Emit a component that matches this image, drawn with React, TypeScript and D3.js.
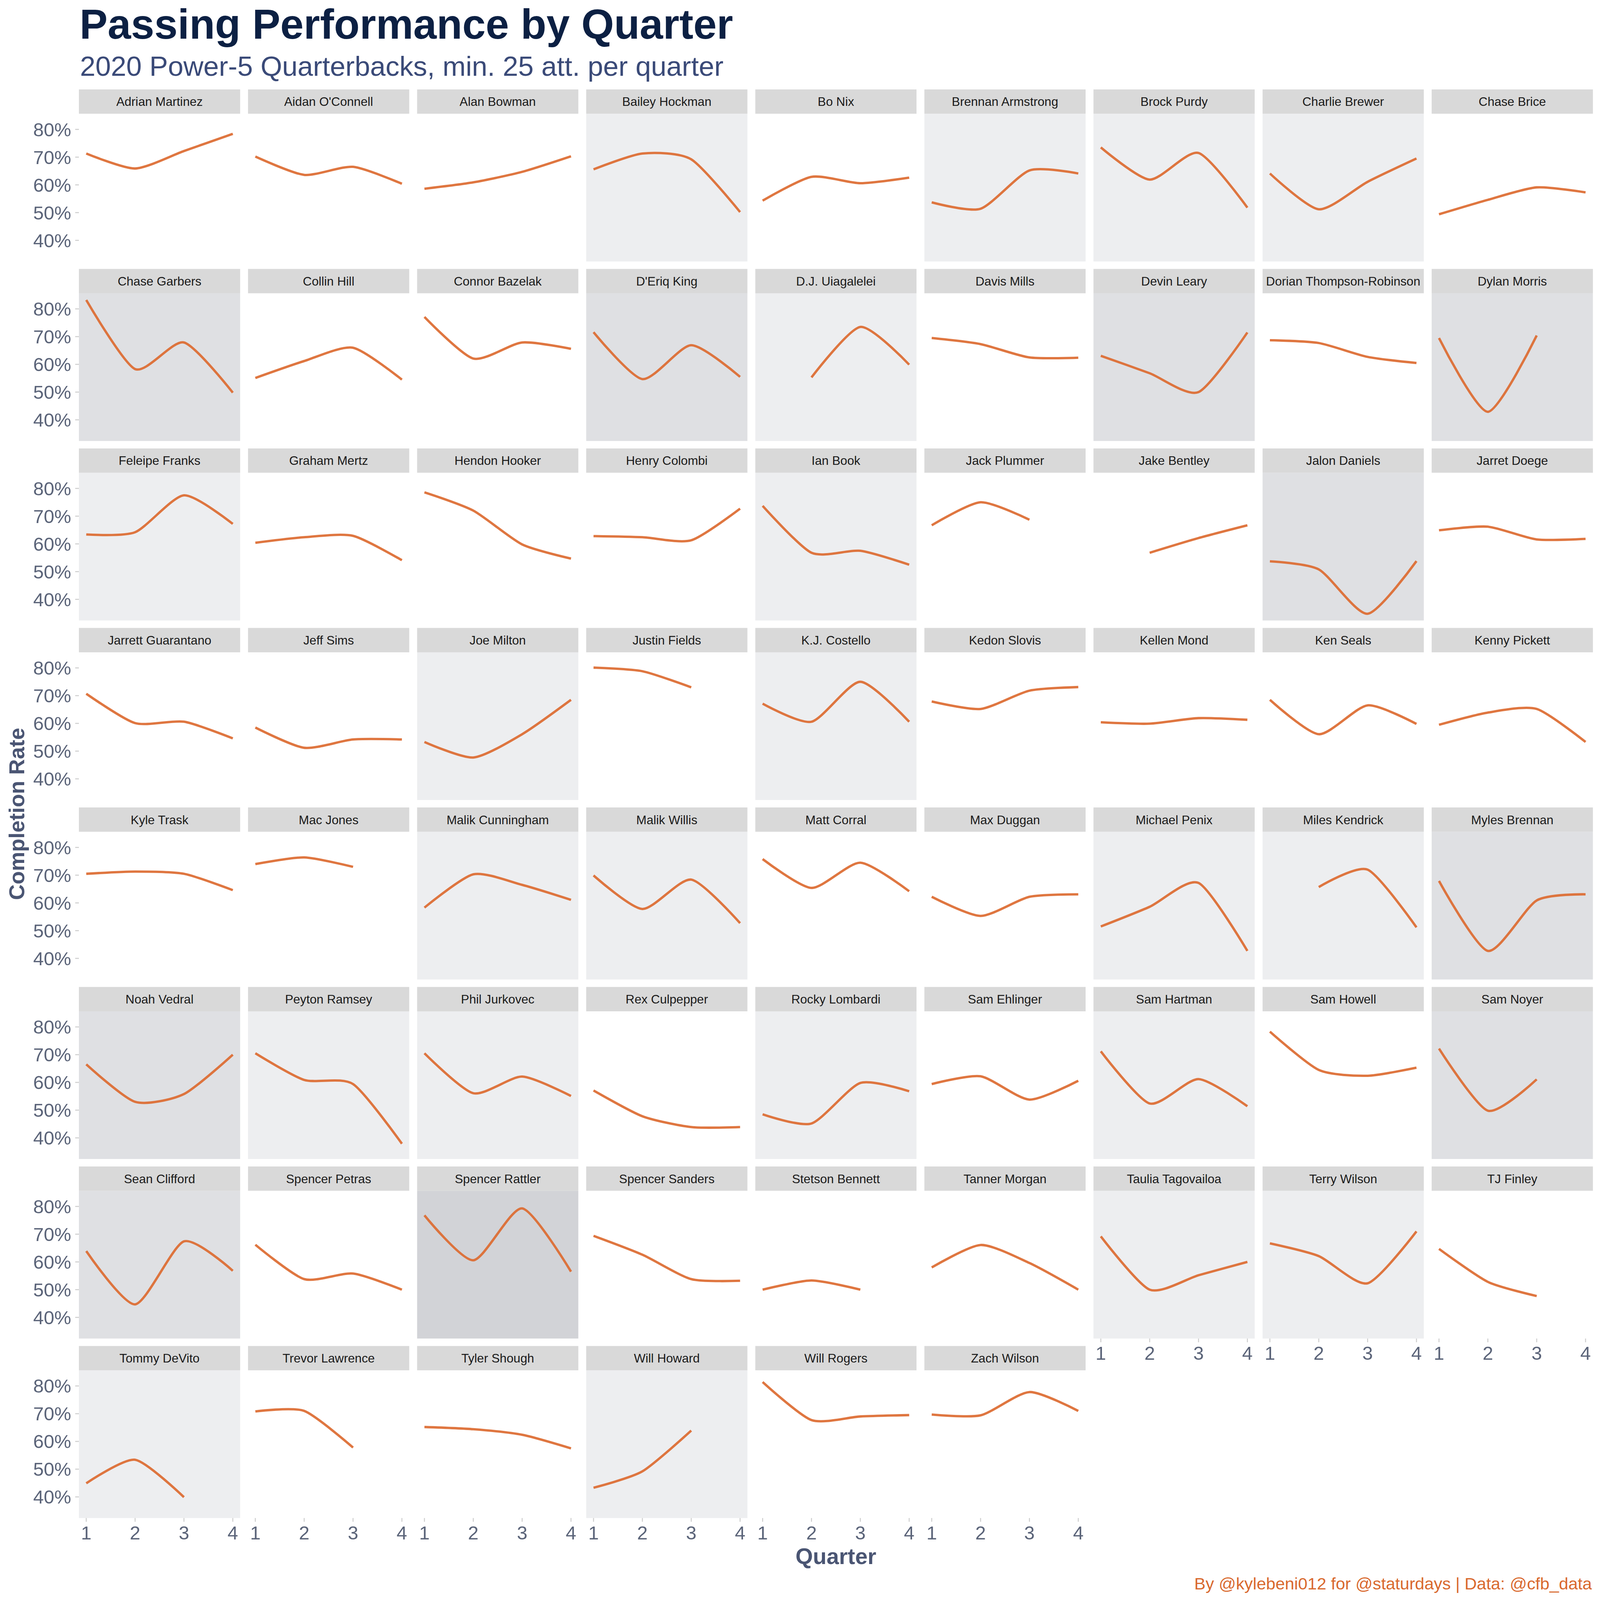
import * as d3 from 'd3';
import React from 'react';

const players = [
	'Adrian Martinez', "Aidan O'Connell", 'Alan Bowman', 'Bailey Hockman', 'Bo Nix', 'Brennan Armstrong', 'Brock Purdy', 'Charlie Brewer', 'Chase Brice',
	'Chase Garbers', 'Collin Hill', 'Connor Bazelak', "D'Eriq King", 'D.J. Uiagalelei', 'Davis Mills', 'Devin Leary', 'Dorian Thompson-Robinson', 'Dylan Morris',
	'Feleipe Franks', 'Graham Mertz', 'Hendon Hooker', 'Henry Colombi', 'Ian Book', 'Jack Plummer', 'Jake Bentley', 'Jalon Daniels', 'Jarret Doege',
	'Jarrett Guarantano', 'Jeff Sims', 'Joe Milton', 'Justin Fields', 'K.J. Costello', 'Kedon Slovis', 'Kellen Mond', 'Ken Seals', 'Kenny Pickett',
	'Kyle Trask', 'Mac Jones', 'Malik Cunningham', 'Malik Willis', 'Matt Corral', 'Max Duggan', 'Michael Penix', 'Miles Kendrick', 'Myles Brennan',
	'Noah Vedral', 'Peyton Ramsey', 'Phil Jurkovec', 'Rex Culpepper', 'Rocky Lombardi', 'Sam Ehlinger', 'Sam Hartman', 'Sam Howell', 'Sam Noyer',
	'Sean Clifford', 'Spencer Petras', 'Spencer Rattler', 'Spencer Sanders', 'Stetson Bennett', 'Tanner Morgan', 'Taulia Tagovailoa', 'Terry Wilson', 'TJ Finley',
	'Tommy DeVito', 'Trevor Lawrence', 'Tyler Shough', 'Will Howard', 'Will Rogers', 'Zach Wilson',
];

// completion rate (%) by quarter, null = under 25 attempts
const q1Rate = [
	71.3, 70.2, 58.6, 65.6, 54.3, 53.7, 73.5, 64.1, 49.4,
	83.2, 55.1, 77.1, 71.6, null, 69.5, 63.1, 68.7, 69.5,
	63.4, 60.4, 78.6, 62.8, 73.7, 66.7, null, 53.7, 64.9,
	70.7, 58.5, 53.3, 80.1, 67.1, 67.9, 60.4, 68.5, 59.5,
	70.5, 74.0, 58.3, 69.9, 75.8, 62.2, 51.5, null, 67.9,
	66.5, 70.5, 70.5, 57.1, 48.5, 59.4, 71.2, 78.3, 72.2,
	63.9, 66.2, 76.8, 69.4, 50.0, 58.0, 69.2, 66.7, 64.7,
	44.9, 70.8, 65.2, 43.3, 81.4, 69.7,
];
const q2Rate = [
	65.9, 63.6, 60.9, 71.3, 62.9, 51.4, 61.9, 51.2, 54.6,
	58.3, 61.2, 62.1, 54.7, 55.3, 67.3, 56.8, 67.7, 42.9,
	64.2, 62.4, 72.0, 62.4, 56.8, 75.0, 56.8, 50.8, 66.2,
	60.1, 51.2, 47.7, 78.8, 60.6, 65.2, 59.9, 56.1, 63.9,
	71.3, 76.4, 70.3, 57.8, 65.4, 55.3, 58.6, 65.7, 42.7,
	53.0, 60.9, 56.1, 47.8, 45.2, 62.2, 52.4, 64.5, 49.8,
	44.7, 53.8, 60.6, 62.6, 53.3, 66.1, 50.0, 62.1, 52.8,
	53.4, 71.0, 64.4, 49.2, 67.7, 69.4,
];
const q3Rate = [
	72.2, 66.5, 64.7, 69.2, 60.6, 65.2, 71.5, 61.1, 59.1,
	67.9, 66.0, 67.9, 66.9, 73.5, 62.5, 50.0, 62.7, 70.4,
	77.5, 62.9, 59.8, 61.3, 57.5, 68.7, 62.1, 34.8, 61.6,
	60.6, 54.2, 56.1, 73.0, 75.0, 71.8, 61.9, 66.5, 65.2,
	70.5, 73.0, 66.5, 68.4, 74.5, 62.2, 67.2, 72.0, 60.9,
	55.8, 59.4, 62.1, 43.9, 59.8, 53.8, 61.2, 62.4, 61.1,
	67.4, 55.8, 79.3, 53.8, 50.0, 59.6, 55.2, 52.3, 47.7,
	39.9, 57.8, 62.4, 63.9, 69.0, 77.8,
];
const q4Rate = [
	78.4, 60.4, 70.3, 50.2, 62.6, 64.1, 51.8, 69.5, 57.3,
	49.8, 54.5, 65.6, 55.5, 59.9, 62.4, 71.5, 60.5, null,
	67.2, 54.1, 54.7, 72.7, 52.5, null, 66.7, 53.8, 61.8,
	54.6, 54.2, 68.5, null, 60.6, 73.1, 61.3, 59.8, 53.3,
	64.6, null, 61.1, 52.7, 64.2, 63.1, 42.7, 51.2, 63.1,
	70.0, 37.9, 55.1, 43.9, 56.8, 60.6, 51.4, 65.3, null,
	56.8, 50.0, 56.5, 53.2, null, 50.0, 60.0, 71.0, null,
	null, null, 57.5, null, 69.5, 71.0,
];

// panel background level (0 = white ... 3 = darkest)
const panelShade = [
	0, 0, 0, 1, 0, 1, 1, 1, 0,
	2, 0, 0, 2, 1, 0, 2, 0, 2,
	1, 0, 0, 0, 1, 0, 0, 2, 0,
	0, 0, 1, 0, 1, 0, 0, 0, 0,
	0, 0, 1, 1, 0, 0, 1, 1, 2,
	2, 1, 1, 0, 1, 0, 1, 0, 2,
	2, 0, 3, 0, 0, 0, 1, 1, 0,
	1, 0, 0, 1, 0, 0,
];

const quarters = [1, 2, 3, 4];
const yTicks = [40, 50, 60, 70, 80];

const width = 4724;
const height = 4724;
const nCol = 9;
const left0 = 233;
const top0 = 264;
const colStep = 499.25;
const rowStep = 530;
const panelW = 476;
const stripH = 72;
const plotH = 436;

const font = "'Liberation Sans', Arial, sans-serif";
const shadeColor = d3.scaleOrdinal<number, string>().domain([0, 1, 2, 3]).range(['#ffffff', '#edeef0', '#dfe0e3', '#d2d3d7']);

const App = () => {
	const series = players.map((name, i) => ({
		name,
		shade: panelShade[i],
		values: [q1Rate[i], q2Rate[i], q3Rate[i], q4Rate[i]],
	}));

	const all = series.flatMap(s => s.values.filter(v => v != null)) as number[];
	const [lo, hi] = d3.extent(all) as [number, number];
	const padY = (hi - lo) * 0.05;
	const yScale = d3.scaleLinear().domain([lo - padY, hi + padY]).range([plotH, 0]);
	const xScale = d3.scaleLinear().domain([1 - 0.15, 4 + 0.15]).range([0, panelW]);

	// a bit of tension so the curve eases into each quarter like an x-spline
	const line = d3
		.line<[number, number | null]>()
		.defined(d => d[1] != null)
		.x(d => xScale(d[0]))
		.y(d => yScale(d[1] as number))
		.curve(d3.curveCardinal.tension(0.3));

	const n = series.length;
	const nRow = Math.ceil(n / nCol);

	return (
		<svg
			viewBox={`0 0 ${width} ${height}`}
			style={{ position: 'absolute', left: 0, top: 0, width: '100vw', height: '100vh', display: 'block', background: '#fff' }}
			fontFamily={font}
		>
			<text x={235} y={114} fontSize={124} fontWeight="bold" fill="#0c2043">
				Passing Performance by Quarter
			</text>
			<text x={236} y={224} fontSize={82} fill="#3a4a78">
				2020 Power-5 Quarterbacks, min. 25 att. per quarter
			</text>

			{series.map((s, i) => {
				const col = i % nCol;
				const row = Math.floor(i / nCol);
				const px = left0 + col * colStep;
				const py = top0 + row * rowStep;
				const isBottom = i + nCol >= n;
				const pts = quarters.map((q, k) => [q, s.values[k]] as [number, number | null]);
				return (
					<g key={s.name} transform={`translate(${px},${py})`}>
						<rect width={panelW} height={stripH} fill="#d9d9d9" />
						<text x={panelW / 2} y={stripH / 2 + 13} textAnchor="middle" fontSize={36.5} fill="#1a1a1a">
							{s.name}
						</text>
						<g transform={`translate(0,${stripH})`}>
							<rect width={panelW} height={plotH} fill={shadeColor(s.shade)} />
							<path d={line(pts) || ''} fill="none" stroke="#dc6a30" strokeOpacity={0.92} strokeWidth={7} />
							{col === 0 &&
								yTicks.map(t => (
									<g key={t} transform={`translate(0,${yScale(t)})`}>
										<line x1={-11} x2={0} stroke="#cfcfcf" strokeWidth={3} />
										<text x={-23} dy={20} textAnchor="end" fontSize={56} fill="#5b6479">
											{t}%
										</text>
									</g>
								))}
							{isBottom &&
								quarters.map(q => (
									<g key={q} transform={`translate(${xScale(q)},${plotH})`}>
										<line y1={0} y2={11} stroke="#cfcfcf" strokeWidth={3} />
										<text y={63} textAnchor="middle" fontSize={56} fill="#5b6479">
											{q}
										</text>
									</g>
								))}
						</g>
					</g>
				);
			})}

			<text
				transform={`translate(72,${top0 + ((nRow - 1) * rowStep + stripH + plotH) / 2 + 30}) rotate(-90)`}
				textAnchor="middle"
				fontSize={64}
				fontWeight="bold"
				fill="#4a5573"
			>
				Completion Rate
			</text>
			<text x={left0 + ((nCol - 1) * colStep + panelW) / 2} y={4618} textAnchor="middle" fontSize={66} fontWeight="bold" fill="#4a5573">
				Quarter
			</text>
			<text x={4700} y={4693} textAnchor="end" fontSize={50} fill="#d9692e">
				By @kylebeni012 for @staturdays | Data: @cfb_data
			</text>
		</svg>
	);
};

export default App;
